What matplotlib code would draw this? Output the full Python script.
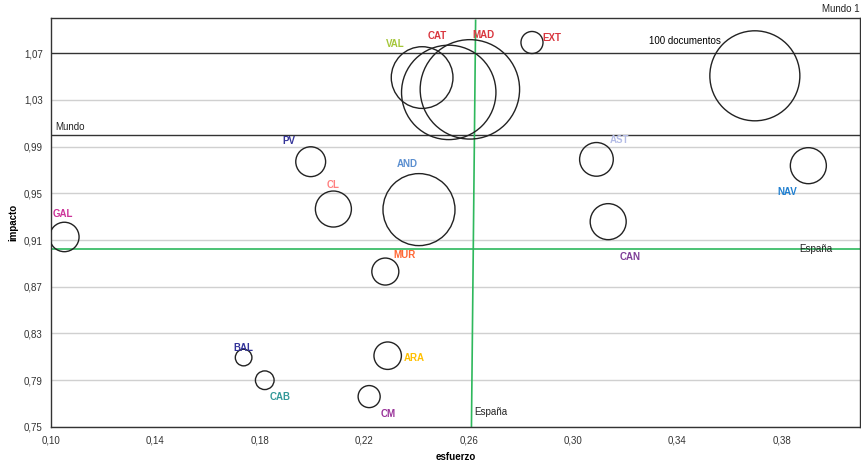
"""Bubble chart: impacto vs esfuerzo by comunidad autónoma."""
import matplotlib
matplotlib.use("Agg")
import matplotlib.pyplot as plt
from matplotlib.ticker import FixedLocator, FuncFormatter

plt.rcParams["font.family"] = ["Liberation Sans", "DejaVu Sans"]

# data
regiones = ["GAL", "PV", "CL", "AND", "MUR", "ARA", "CM", "BAL", "CAB",
            "VAL", "CAT", "MAD", "EXT", "AST", "CAN", "NAV"]
esfuerzo = [0.1051, 0.1995, 0.2082, 0.2410, 0.2281, 0.2290, 0.2219, 0.1738,
            0.1819, 0.2422, 0.2524, 0.2605, 0.2843, 0.3090, 0.3135, 0.3902]
impacto = [0.9126, 0.977, 0.9365, 0.936, 0.883, 0.811, 0.776, 0.8094,
           0.790, 1.049, 1.0363, 1.0389, 1.079, 0.979, 0.9257, 0.9736]
documentos = [10.7, 11, 16, 64, 9, 9.3, 6, 3.4,
              4.3, 47, 110, 122, 6, 14, 16, 16]
colores = ["#cc3399", "#333399", "#ff8080", "#5b8fd0", "#ff6633", "#ffc000",
           "#993399", "#333399", "#339999", "#a4c639", "#d9363e", "#d9363e",
           "#d9363e", "#b4bce6", "#7f3f98", "#1f7fd0"]
# label offsets in pixels (dx, dy) relative to bubble centre
offsets = [(-2, 23), (-22, 21), (0, 24), (-12, 46), (19, 17), (27, -2),
           (19, -17), (0, 10), (15, -17), (-27, 34), (-11, 56), (14, 54),
           (20, 5), (23, 19), (22, -35), (-21, -26)]

ref_doc = 100
ref_xy = (0.3697, 1.0505)
espana_x = (0.2611, 0.2627)
espana_y = 0.9025
mundo_y = 1.0
xticks = [0.10, 0.14, 0.18, 0.22, 0.26, 0.30, 0.34, 0.38]
yticks = [0.75, 0.79, 0.83, 0.87, 0.91, 0.95, 0.99, 1.03, 1.07]

SCALE = 42.0  # points^2 per documento

fig = plt.figure(figsize=(8.62, 4.63), dpi=100)
ax = fig.add_axes([0.0592, 0.0778, 0.9385, 0.8834])
ax.set_xlim(0.10, 0.41)
ax.set_ylim(0.75, 1.10)

ax.xaxis.set_major_locator(FixedLocator(xticks))
ax.yaxis.set_major_locator(FixedLocator(yticks))
fmt = FuncFormatter(lambda v, p: f"{v:.2f}".replace(".", ","))
ax.xaxis.set_major_formatter(fmt)
ax.yaxis.set_major_formatter(fmt)
ax.tick_params(length=0, labelsize=7, colors="#333333", pad=6)
for s in ax.spines.values():
    s.set_color("#333333")
    s.set_linewidth(1)

for y in yticks:
    if y == 1.07:
        ax.axhline(y, color="#333333", lw=1, zorder=1)
    else:
        ax.axhline(y, color="#d0d0d0", lw=1, zorder=1)

ax.axhline(mundo_y, color="#333333", lw=1, zorder=1)
ax.text(0.1015, mundo_y + 0.004, "Mundo", fontsize=7, color="#222222")

ax.axhline(espana_y, color="#2eb85c", lw=1.2, zorder=2)
ax.plot(espana_x, [0.75, 1.098], color="#2eb85c", lw=1.2, zorder=2)
ax.text(0.3930, espana_y, "España", fontsize=7, color="#222222",
        ha="center", va="center", zorder=4)
ax.text(espana_x[0] + 0.0009, 0.760, "España", fontsize=7, color="#222222")
ax.text(1.0, 1.01, "Mundo 1", transform=ax.transAxes, fontsize=7,
        color="#222222", ha="right", va="bottom")

ax.scatter(esfuerzo, impacto, s=[d * SCALE for d in documentos],
           facecolors="none", edgecolors="#222222", linewidths=1, zorder=3)
ax.scatter([ref_xy[0]], [ref_xy[1]], s=ref_doc * SCALE,
           facecolors="none", edgecolors="#222222", linewidths=1, zorder=3)
ax.annotate("100 documentos", ref_xy, xytext=(-70, 35),
            textcoords="offset pixels", fontsize=7, ha="center", va="center")

for name, x, y, c, (dx, dy) in zip(regiones, esfuerzo, impacto, colores, offsets):
    ax.annotate(name, (x, y), xytext=(dx, dy), textcoords="offset pixels",
                fontsize=7, fontweight="bold", color=c, ha="center", va="center")

ax.set_xlabel("esfuerzo", fontsize=7, fontweight="bold", labelpad=5)
ax.set_ylabel("impacto", fontsize=7, fontweight="bold", labelpad=4)

fig.savefig("out.png", dpi=100)
